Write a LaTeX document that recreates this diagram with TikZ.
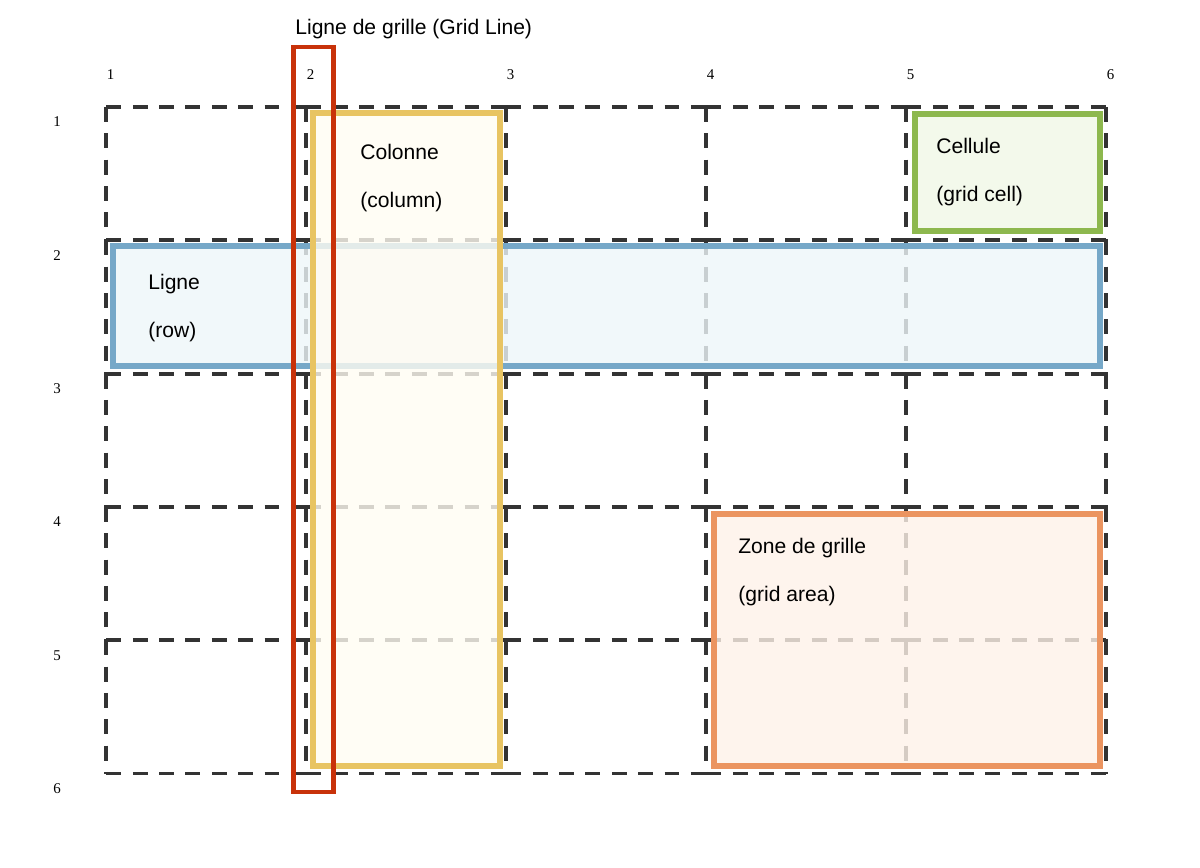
\documentclass[tikz,border=0pt]{standalone}
\usepackage{fontspec}
\setmainfont{Liberation Sans}
\newfontfamily\numfont{Liberation Serif}
\usetikzlibrary{positioning}

\definecolor{gridgray}{HTML}{333333}
\definecolor{linered}{HTML}{C8320A}
\definecolor{colyellow}{HTML}{E8C462}
\definecolor{colyellowfill}{HTML}{FFFCF2}
\definecolor{rowblue}{HTML}{76A8C8}
\definecolor{rowbluefill}{HTML}{EEF6F9}
\definecolor{cellgreen}{HTML}{8DB84E}
\definecolor{cellgreenfill}{HTML}{F0F7E6}
\definecolor{areaorange}{HTML}{EB9460}
\definecolor{areaorangefill}{HTML}{FEF1E8}

\begin{document}
\begin{tikzpicture}[
    x=0.02cm, y=-0.02cm,
    font=\fontsize{12}{14}\selectfont,
    cell/.style={draw=gridgray, line width=2.2pt, dash pattern=on 8.5pt off 6.5pt},
    zonebox/.style={line width=3.6pt, fill opacity=0.8},
    tagtext/.style={anchor=base west, inner sep=0pt},
    num/.style={font=\numfont\fontsize{8.5}{10}\selectfont, inner sep=0pt}
]
    \useasboundingbox (0,0) rectangle (1200,867);

    % Grid cells
    \foreach \i in {0,...,4}
        \foreach \j in {0,...,5}
            \draw[cell] (106.4+200*\i,107+133.3*\j) -- ++(200,0);
    \foreach \i in {0,...,5}
        \foreach \j in {0,...,4}
            \draw[cell] (106.4+200*\i,107+133.3*\j) -- ++(0,133.3);

    % Line numbers
    \foreach \n [count=\k from 0] in {1,...,6} {
        \node[num] (col\n) at (110.5+200*\k,75) {\n};
        \node[num] (row\n) at (57,122+133.3*\k) {\n};
    }

    % Areas
    \draw[zonebox, draw=rowblue, fill=rowbluefill] (113,246) rectangle (1100,366);
    \draw[zonebox, draw=cellgreen, fill=cellgreenfill] (915,114) rectangle (1100,231);
    \draw[zonebox, draw=areaorange, fill=areaorangefill] (714,514) rectangle (1100,766);
    \draw[zonebox, draw=colyellow, fill=colyellowfill] (313,113) rectangle (500,766);
    \draw[draw=linered, line width=2.8pt] (293.5,47) rectangle (333.5,792);

    % Labels
    \node[tagtext] (gridline) at (295,34) {Ligne de grille (Grid Line)};
    \node[tagtext] (column) at (360,159) {Colonne};
    \node[below=0.96cm of column.base west, tagtext] (columnen) {(column)};
    \node[tagtext] (row) at (148,289) {Ligne};
    \node[below=0.96cm of row.base west, tagtext] (rowen) {(row)};
    \node[tagtext] (cellfr) at (936,153) {Cellule};
    \node[below=0.96cm of cellfr.base west, tagtext] (cellen) {(grid cell)};
    \node[tagtext] (area) at (738,553) {Zone de grille};
    \node[below=0.96cm of area.base west, tagtext] (areaen) {(grid area)};
\end{tikzpicture}
\end{document}
